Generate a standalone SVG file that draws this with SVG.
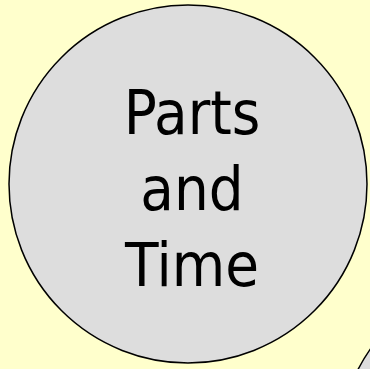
<svg xmlns="http://www.w3.org/2000/svg" width="370" height="369" viewBox="0 0 370 369">
<style>
.node{fill:#DDDDDD;stroke:#000;stroke-width:1.5}
.lbl{font-family:"DejaVu Sans Condensed","DejaVu Sans",Tahoma,sans-serif;font-stretch:condensed;font-size:61px;fill:#000;text-anchor:middle}
</style>
<rect width="370" height="369" fill="#FFFFCC"/>
<g id="connectors"></g>
<g id="parts-and-time">
<circle class="node" cx="188" cy="184" r="179"/>
<text class="lbl" x="192" y="134">Parts</text>
<text class="lbl" x="192" y="210">and</text>
<text class="lbl" x="192" y="286">Time</text>
</g>
<g id="neighbor">
<circle class="node" cx="518" cy="452" r="180"/>
</g>
</svg>
